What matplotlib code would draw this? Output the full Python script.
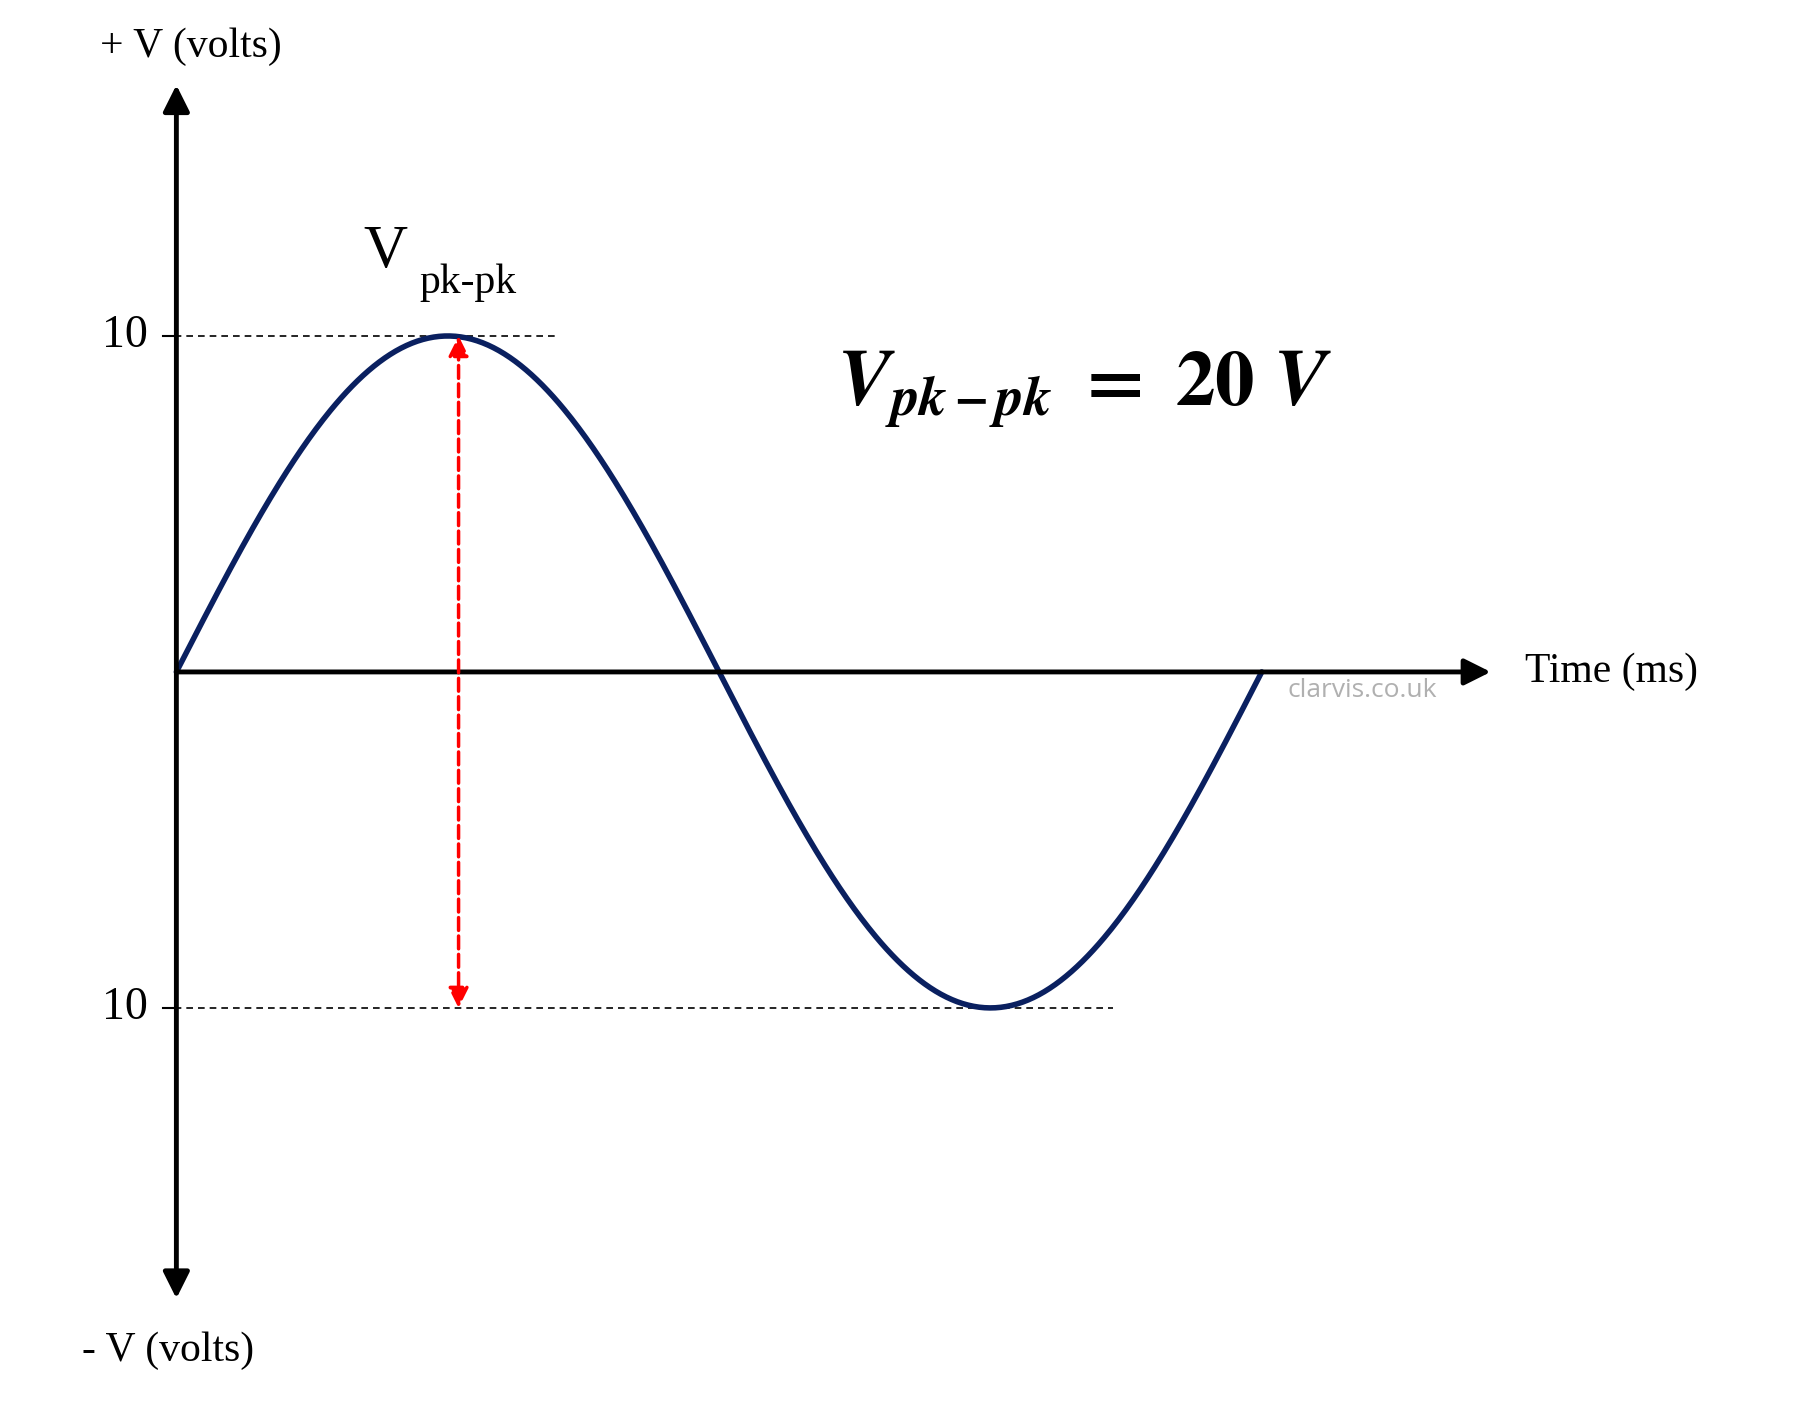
import numpy as np
import matplotlib
matplotlib.use("Agg")
import matplotlib.pyplot as plt

amplitude = 10.0      # volts
period = 20.0         # ms
t = np.linspace(0, period, 600)
v = amplitude * np.sin(2 * np.pi * t / period)
tick_values = [10, -10]
tick_labels = ["10", "10"]

plt.rcParams['mathtext.fontset'] = 'stix'
fig = plt.figure(figsize=(17.99, 14.01), dpi=100)
ax = fig.add_axes([0, 0, 1, 1])
ax.set_xlim(-3.25, 29.9)
ax.set_ylim(-21.7, 20.0)
ax.axis('off')

px = 20 / 948.0   # ms per display pixel
pv = 1 / 28.85    # volts per display pixel
serif = 'Liberation Serif'

ap = dict(arrowstyle='-|>', lw=3.5, color='black', mutation_scale=40, shrinkA=0, shrinkB=0)
ax.annotate('', xy=(0, (582 - 78) * pv), xytext=(0, 0), arrowprops=ap)
ax.annotate('', xy=(0, -(1120 - 582) * pv), xytext=(0, 0), arrowprops=ap)
ax.annotate('', xy=((1300 - 152) * px, 0), xytext=(0, 0), arrowprops=ap)

ax.plot([-12 * px, (485 - 152) * px], [10, 10], color='black', lw=1.2, dashes=(4, 3))
ax.plot([-12 * px, (970 - 152) * px], [-10, -10], color='black', lw=1.2, dashes=(4, 3))
for tv, tl in zip(tick_values, tick_labels):
    ax.plot([-12 * px, 0], [tv, tv], color='black', lw=1.5)
    ax.text(-25 * px, tv, tl, fontsize=33, family=serif, ha='right', va='center')

ax.plot(t, v, color='#0a2060', lw=4, solid_capstyle='round')

tp = period / 4 * 1.04
ax.annotate('', xy=(tp, 10), xytext=(tp, -10),
            arrowprops=dict(arrowstyle='<|-|>', ls='--', lw=2.5, color='red', mutation_scale=30, shrinkA=0, shrinkB=0))

ax.text((165 - 152) * px, (582 - 45) * pv, '+ V (volts)', fontsize=30, family=serif, ha='center', va='center')
ax.text((145 - 152) * px, -(1165 - 582) * pv, '- V (volts)', fontsize=30, family=serif, ha='center', va='center')
ax.text((1330 - 152) * px, 0, 'Time (ms)', fontsize=30, family=serif, ha='left', va='center')
ax.text((315 - 152) * px, (582 - 222) * pv, 'V', fontsize=44, family=serif, ha='left', va='center')
ax.text((364 - 152) * px, (582 - 248) * pv, 'pk-pk', fontsize=30, family=serif, ha='left', va='center')
ax.text((945 - 152) * px, (582 - 340) * pv,
        r'$\mathbfit{V}_{\mathbfit{pk-pk}}\mathbf{\ =\ 20\ }\mathbfit{V}$',
        fontsize=57, ha='center', va='center')
ax.text((1188 - 152) * px, -(598 - 582) * pv, 'clarvis.co.uk', fontsize=19, family='Open Sans',
        color='#b0b0b0', ha='center', va='center')

fig.savefig('out.png', dpi=100, facecolor='white')
